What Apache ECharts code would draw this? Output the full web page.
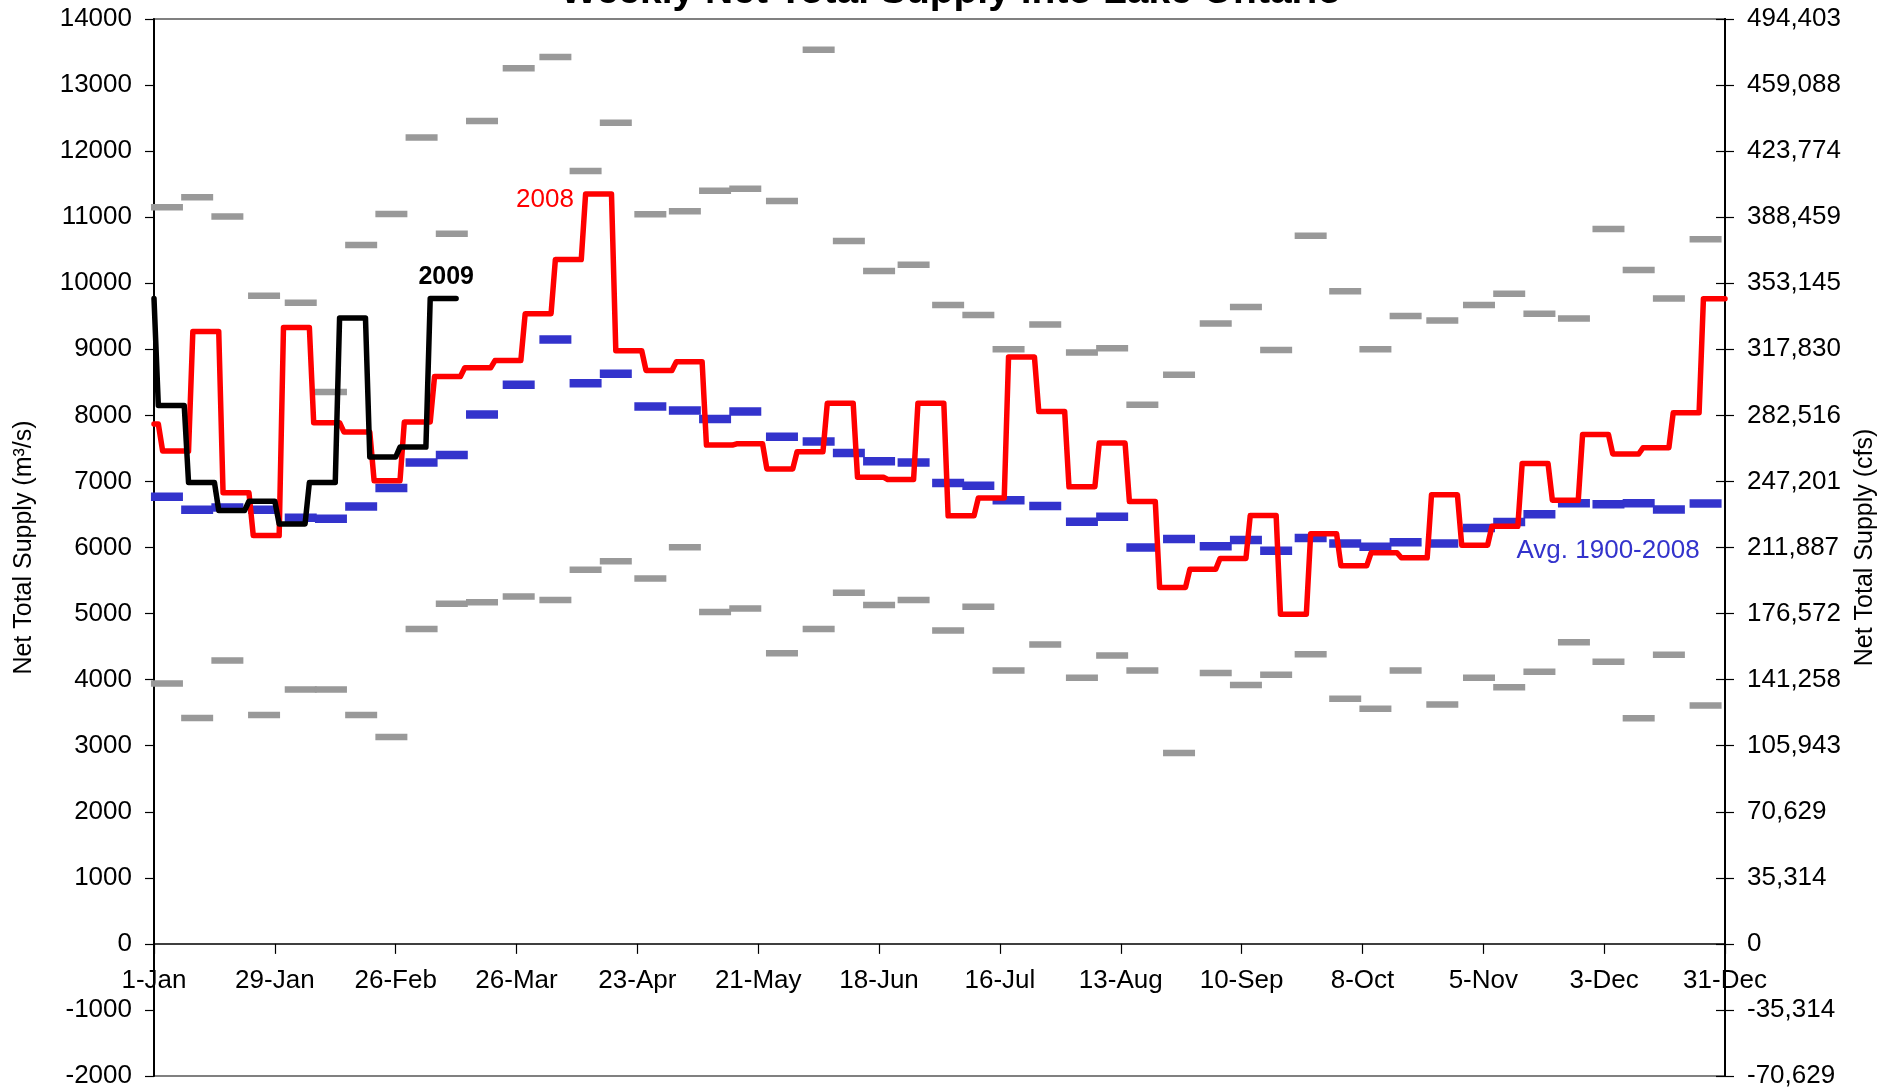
<!DOCTYPE html>
<html>
<head>
<meta charset="utf-8">
<title>Weekly Net Total Supply into Lake Ontario</title>
<script src="https://cdn.jsdelivr.net/npm/echarts/dist/echarts.min.js"></script>
<style>
  html, body { margin: 0; padding: 0; background: #ffffff; }
  #chart { width: 1902px; height: 1090px; }
</style>
</head>
<body>
<div id="chart"></div>
<script>
// ---- Axis text -------------------------------------------------------------
const TICK_LABELS = ['1-Jan', '29-Jan', '26-Feb', '26-Mar', '23-Apr', '21-May', '18-Jun',
                     '16-Jul', '13-Aug', '10-Sep', '8-Oct', '5-Nov', '3-Dec', '31-Dec'];
const TICK_DAYS = 28;          // one label every four weeks
const LAST_DAY = 364;          // 31-Dec, counted from 1-Jan
const MONTH_DAYS = [31, 28, 31, 30, 31, 30, 31, 31, 30, 31, 30, 31];
const Y_MIN = -2000, Y_MAX = 14000, Y_STEP = 1000;
const CFS_PER_CMS_X1E4 = 353145;   // 1 m3/s = 35.3145 cfs

// ---- Weekly supply, m3/s ---------------------------------------------------
// 2008: first entry is the week ending 2-Jan, then full weeks (Thu..Wed).
const WEEK_END_2008 = 1;       // day index of the first week end
const supply2008 = [7870,
  7460, 9270, 6830, 6180, 9330, 7890, 7750, 7010, 7900, 8590, 8720, 8830, 9540,
  10360, 11350, 8980, 8680, 8810, 7550, 7570, 7190, 7450, 8185, 7065, 7030, 8185,
  6480, 6750, 8885, 8060, 6920, 7580, 6695, 5395, 5670, 5835, 6485, 4990, 6210,
  5725, 5920, 5845, 6800, 6035, 6320, 7270, 6715, 7710, 7415, 7510, 8040, 9765];

// 2009: first entry is the week ending 1-Jan, then full weeks (Fri..Thu).
const WEEK_END_2009 = 0;
const supply2009 = [9770, 8150, 6985, 6560, 6700, 6357, 6985, 9475, 7370, 7520, 9770];

// ---- Quarter-monthly statistics 1900-2008, m3/s ----------------------------
const avgQM = [
  6770, 6570, 6605, 6570,  6450, 6435, 6620, 6900,  7285, 7400, 8015, 8465,
  9150, 8485, 8630, 8135,  8075, 7945, 8060, 7675,  7605, 7430, 7305, 7285,
  6975, 6935, 6715, 6630,  6390, 6465, 6000, 6130,  6020, 6115, 5950, 6145,
  6060, 6010, 6080, 6060,  6295, 6385, 6505, 6670,  6655, 6670, 6575, 6665];
const maxQM = [
  11150, 11300, 11010, 9810,  9705, 8355, 10580, 11050,  12205, 10750, 12455, 13255,
  13425, 11700, 12430, 11045,  11090, 11400, 11430, 11245,  13535, 10640, 10185, 10280,
  9670, 9520, 9000, 9375,  8950, 9015, 8160, 8615,  9390, 9640, 8990, 10720,
  9880, 9000, 9505, 9435,  9670, 9840, 9540, 9465,  10820, 10200, 9770, 10665];
const minQM = [
  3940, 3420, 4290, 3465,  3850, 3850, 3465, 3130,  4765, 5150, 5170, 5260,
  5205, 5665, 5790, 5530,  6005, 5025, 5075, 4400,  4765, 5315, 5130, 5205,
  4745, 5105, 4140, 4530,  4030, 4365, 4140, 2890,  4100, 3920, 4075, 4385,
  3710, 3560, 4140, 3625,  4030, 3885, 4120, 4565,  4270, 3415, 4375, 3610];

// ---- Helpers ---------------------------------------------------------------
// Middle day (counted from 1-Jan) of each quarter-month: 1-7, 8-14, 15-21, 22-end.
function quarterMonthMidDays() {
  const mids = [];
  let offset = 0;
  MONTH_DAYS.forEach(len => {
    [[1, 7], [8, 14], [15, 21], [22, len]].forEach(([a, b]) => {
      mids.push(offset + (a + b) / 2 - 1);
    });
    offset += len;
  });
  return mids;
}
const QM_DAYS = quarterMonthMidDays();

function qmPoints(values) {
  return values.map((v, i) => [QM_DAYS[i], v]);
}

// A weekly value holds over its seven days; consecutive weeks meet over one day.
function weeklySteps(firstWeekEnd, values) {
  const pts = [];
  values.forEach((v, i) => {
    const end = Math.min(firstWeekEnd + 7 * i, LAST_DAY);
    const start = Math.max(firstWeekEnd + 7 * i - 6, 0);
    pts.push([start, v]);
    if (end > start) pts.push([end, v]);
  });
  return pts;
}

function toCfsLabel(v) {
  const cfs = Math.trunc(v * CFS_PER_CMS_X1E4 / 10000);
  return cfs.toLocaleString('en-US');
}

// ---- Layout ----------------------------------------------------------------
const WIDTH = 1902, HEIGHT = 1090;
const GRID = { left: 154, right: 177, top: 19, bottom: 14 };
const plotHeight = HEIGHT - GRID.top - GRID.bottom;
// the date axis runs along the zero line, above the bottom of the plot
const zeroLift = plotHeight * (0 - Y_MIN) / (Y_MAX - Y_MIN);

// ---- Chart -----------------------------------------------------------------
const FONT = 'Arial, "Liberation Sans", sans-serif';
const chart = echarts.init(document.getElementById('chart'), null,
                           { renderer: 'canvas', width: WIDTH, height: HEIGHT });

const yCommon = {
  type: 'value', min: Y_MIN, max: Y_MAX, interval: Y_STEP,
  splitLine: { show: false },
  axisLine: { show: true, lineStyle: { color: '#000000', width: 2 } },
  axisTick: { show: true, length: 9, lineStyle: { color: '#000000', width: 1.2 } }
};

const option = {
  animation: false,
  backgroundColor: '#ffffff',
  title: {
    text: 'Weekly Net Total Supply into Lake Ontario',
    left: 'center',
    top: -32,
    textStyle: { fontFamily: FONT, fontWeight: 'bold', fontSize: 39, color: '#000000' }
  },
  grid: Object.assign({}, GRID, {
    containLabel: false, outerBoundsMode: 'none',
    show: true, borderColor: '#808080', borderWidth: 2, backgroundColor: 'transparent'
  }),
  xAxis: {
    type: 'value', min: 0, max: LAST_DAY, interval: TICK_DAYS,
    position: 'bottom', offset: -zeroLift,
    splitLine: { show: false },
    axisLine: { onZero: false, lineStyle: { color: '#000000', width: 1.5 } },
    axisTick: { length: 10, lineStyle: { color: '#000000', width: 1.2 } },
    axisLabel: {
      margin: 24, fontSize: 26, fontFamily: FONT, color: '#000000',
      showMinLabel: true, showMaxLabel: true, hideOverlap: false,
      formatter: v => TICK_LABELS[Math.round(v / TICK_DAYS)] || ''
    }
  },
  yAxis: [
    Object.assign({}, yCommon, {
      position: 'left',
      name: 'Net Total Supply (m³/s)',
      nameLocation: 'middle', nameRotate: 90, nameGap: 117,
      nameTextStyle: { fontFamily: FONT, fontSize: 25, color: '#000000' },
      axisLabel: { margin: 22, fontSize: 26, fontFamily: FONT, color: '#000000',
                   formatter: v => String(v) }
    }),
    Object.assign({}, yCommon, {
      position: 'right',
      name: 'Net Total Supply (cfs)',
      nameLocation: 'middle', nameRotate: 90, nameGap: 128,
      nameTextStyle: { fontFamily: FONT, fontSize: 25, color: '#000000' },
      axisLabel: { margin: 22, fontSize: 26, fontFamily: FONT, color: '#000000',
                   formatter: toCfsLabel }
    }),
    // inner half of the crossing ticks on the right-hand axis
    Object.assign({}, yCommon, {
      position: 'right',
      axisTick: { show: true, inside: true, length: 9, lineStyle: { color: '#000000', width: 1.2 } },
      axisLabel: { show: false }
    })
  ],
  series: [
    {
      name: 'Max', type: 'scatter', yAxisIndex: 0, silent: true, z: 1,
      symbol: 'rect', symbolSize: [32, 6.5],
      itemStyle: { color: '#999999', opacity: 1 },
      data: qmPoints(maxQM)
    },
    {
      name: 'Min', type: 'scatter', yAxisIndex: 0, silent: true, z: 1,
      symbol: 'rect', symbolSize: [32, 6.5],
      itemStyle: { color: '#999999', opacity: 1 },
      data: qmPoints(minQM)
    },
    {
      name: 'Avg. 1900-2008', type: 'scatter', yAxisIndex: 0, silent: true, z: 2,
      symbol: 'rect', symbolSize: [32, 8.5],
      itemStyle: { color: '#3333CC', opacity: 1 },
      data: qmPoints(avgQM),
      markPoint: {
        silent: true, symbol: 'circle', symbolSize: 0,
        data: [{ coord: [336.9, 5947] }],
        label: { show: true, position: 'inside', formatter: 'Avg. 1900-2008',
                 fontFamily: FONT, fontSize: 26, color: '#3333CC' }
      }
    },
    {
      name: '2008', type: 'line', yAxisIndex: 0, silent: true, z: 3,
      showSymbol: false, symbol: 'none',
      lineStyle: { color: '#FF0000', width: 5.5, join: 'round', cap: 'round' },
      data: weeklySteps(WEEK_END_2008, supply2008),
      markPoint: {
        silent: true, symbol: 'circle', symbolSize: 0,
        data: [{ coord: [90.6, 11263] }],
        label: { show: true, position: 'inside', formatter: '2008',
                 fontFamily: FONT, fontSize: 26, color: '#FF0000' }
      }
    },
    {
      name: '2009', type: 'line', yAxisIndex: 0, silent: true, z: 4,
      showSymbol: false, symbol: 'none',
      lineStyle: { color: '#000000', width: 5.5, join: 'round', cap: 'round' },
      data: weeklySteps(WEEK_END_2009, supply2009),
      markPoint: {
        silent: true, symbol: 'circle', symbolSize: 0,
        data: [{ coord: [67.7, 10097] }],
        label: { show: true, position: 'inside', formatter: '2009',
                 fontFamily: FONT, fontSize: 25, fontWeight: 'bold', color: '#000000' }
      }
    }
  ]
};

chart.setOption(option);
</script>
</body>
</html>
